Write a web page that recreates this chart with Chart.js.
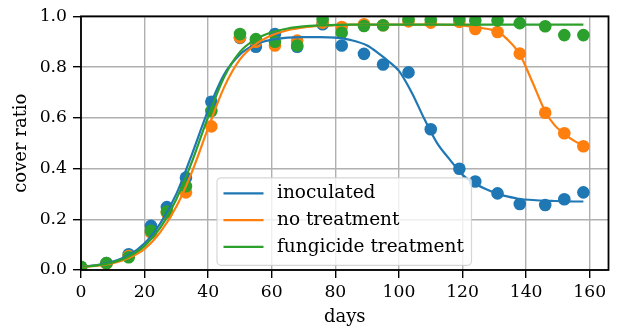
<!DOCTYPE html>
<html lang="en">
<head>
<meta charset="UTF-8">
<title>cover ratio</title>
<script src="https://cdn.jsdelivr.net/npm/chart.js@4.4.0/dist/chart.umd.min.js"></script>
<style>
  html, body { margin: 0; padding: 0; background: #fff; }
  #wrap { width: 622px; height: 333px; }
</style>
</head>
<body>
<div id="wrap"><canvas id="coverChart"></canvas></div>
<script>
const seriesNames = ['inoculated', 'no treatment', 'fungicide treatment'];
const seriesColors = ['#1f77b4', '#ff7f0e', '#2ca02c'];

// sampling days and measured cover ratio
const days = [0, 8, 15, 22, 27, 33, 41, 50, 55, 61, 68, 76, 82, 89, 95, 103, 110, 119, 124, 131, 138, 146, 152, 158];
const inoculated  = [0.01, 0.027, 0.062, 0.174, 0.248, 0.364, 0.663, 0.915, 0.88, 0.93, 0.88, 0.969, 0.885, 0.852, 0.81, 0.779, 0.555, 0.399, 0.349, 0.302, 0.26, 0.256, 0.279, 0.306];
const noTreatment = [0.01, 0.025, 0.055, 0.148, 0.225, 0.306, 0.566, 0.917, 0.90, 0.885, 0.904, 0.975, 0.958, 0.969, 0.965, 0.98, 0.975, 0.978, 0.95, 0.938, 0.853, 0.62, 0.539, 0.488];
const fungicide   = [0.013, 0.027, 0.05, 0.155, 0.23, 0.33, 0.627, 0.93, 0.91, 0.90, 0.885, 0.988, 0.935, 0.962, 0.965, 0.988, 0.986, 0.99, 0.984, 0.984, 0.973, 0.961, 0.926, 0.926];

// fitted curves
const fitDays = [0, 5, 10, 15, 20, 25, 30, 35, 40, 45, 50, 55, 60, 65, 70, 75, 80, 85, 90, 94, 97, 100, 104, 108, 112, 116, 120, 124, 128, 131, 134, 138, 142, 146, 149, 152, 155, 158];
const fitInoculated  = [0.012, 0.019, 0.033, 0.058, 0.105, 0.185, 0.30, 0.46, 0.63, 0.77, 0.85, 0.89, 0.908, 0.916, 0.918, 0.918, 0.916, 0.906, 0.885, 0.85, 0.82, 0.785, 0.70, 0.595, 0.50, 0.435, 0.375, 0.34, 0.315, 0.30, 0.29, 0.28, 0.276, 0.273, 0.272, 0.271, 0.27, 0.27];
const fitNoTreatment = [0.012, 0.017, 0.027, 0.047, 0.083, 0.15, 0.25, 0.39, 0.56, 0.72, 0.83, 0.89, 0.925, 0.945, 0.956, 0.962, 0.965, 0.967, 0.967, 0.967, 0.967, 0.967, 0.967, 0.967, 0.967, 0.966, 0.964, 0.957, 0.95, 0.94, 0.91, 0.85, 0.74, 0.625, 0.57, 0.537, 0.51, 0.49];
const fitFungicide   = [0.012, 0.018, 0.03, 0.053, 0.095, 0.168, 0.28, 0.43, 0.605, 0.76, 0.86, 0.91, 0.937, 0.952, 0.96, 0.964, 0.966, 0.967, 0.967, 0.967, 0.967, 0.967, 0.967, 0.967, 0.967, 0.967, 0.967, 0.967, 0.967, 0.967, 0.967, 0.967, 0.967, 0.967, 0.967, 0.967, 0.967, 0.967];

const xTicks = [0, 20, 40, 60, 80, 100, 120, 140, 160];
const yTicks = [0, 0.2, 0.4, 0.6, 0.8, 1.0];

const measured = [inoculated, noTreatment, fungicide];
const fitted = [fitInoculated, fitNoTreatment, fitFungicide];

const FONT = 'DejaVu Serif';
const toXY = (xs, ys) => xs.map((x, i) => ({ x: x, y: ys[i] }));

const datasets = [];
// fit lines sit above the scatter points
fitted.forEach((ys, i) => {
  datasets.push({
    type: 'line',
    label: seriesNames[i],
    data: toXY(fitDays, ys),
    borderColor: seriesColors[i],
    borderWidth: 2.2,
    pointRadius: 0,
    cubicInterpolationMode: 'monotone',
    fill: false,
    clip: 0,
    order: 2 - i
  });
});
measured.forEach((ys, i) => {
  datasets.push({
    type: 'scatter',
    label: seriesNames[i] + ' data',
    data: toXY(days, ys),
    backgroundColor: seriesColors[i],
    borderWidth: 0,
    pointRadius: 6.3,
    pointHoverRadius: 6.3,
    clip: 0,
    order: 5 - i
  });
});

// axes frame and the legend box inside the plot
const frameAndLegend = {
  id: 'frameAndLegend',
  afterDatasetsDraw(chart) {
    const { ctx, chartArea: a } = chart;
    ctx.save();
    ctx.strokeStyle = '#000';
    ctx.lineWidth = 1.8;
    ctx.strokeRect(a.left, a.top, a.right - a.left, a.bottom - a.top);

    const bx = a.left + 136, by = a.top + 161.5, bw = 254.5, bh = 87.5, r = 4;
    ctx.beginPath();
    ctx.moveTo(bx + r, by);
    ctx.arcTo(bx + bw, by, bx + bw, by + bh, r);
    ctx.arcTo(bx + bw, by + bh, bx, by + bh, r);
    ctx.arcTo(bx, by + bh, bx, by, r);
    ctx.arcTo(bx, by, bx + bw, by, r);
    ctx.closePath();
    ctx.fillStyle = 'rgba(255,255,255,0.8)';
    ctx.fill();
    ctx.strokeStyle = 'rgba(204,204,204,0.8)';
    ctx.lineWidth = 1.2;
    ctx.stroke();

    ctx.font = '18.5px "' + FONT + '"';
    ctx.textBaseline = 'middle';
    ctx.textAlign = 'left';
    seriesNames.forEach((name, i) => {
      const y = by + 15.5 + i * 26.8;
      ctx.strokeStyle = seriesColors[i];
      ctx.lineWidth = 2.2;
      ctx.beginPath();
      ctx.moveTo(bx + 6.5, y);
      ctx.lineTo(bx + 46.5, y);
      ctx.stroke();
      ctx.fillStyle = '#000';
      ctx.fillText(name, bx + 60, y);
    });
    ctx.restore();
  }
};

new Chart('coverChart', {
  data: { datasets: datasets },
  options: {
    responsive: true,
    maintainAspectRatio: false,
    animation: false,
    events: [],
    layout: { padding: { left: 0, top: 12, right: 13.5, bottom: 0 } },
    plugins: { legend: { display: false }, tooltip: { enabled: false } },
    scales: {
      x: {
        type: 'linear',
        min: 0,
        max: 165.9,
        afterBuildTicks: (axis) => { axis.ticks = xTicks.map(v => ({ value: v })); },
        afterFit: (axis) => { axis.height = 63; },
        grid: { color: '#b0b0b0', lineWidth: 1.4, tickColor: '#000', tickLength: 8, tickWidth: 1.4 },
        border: { display: false },
        ticks: { color: '#000', padding: 4, maxRotation: 0, font: { family: FONT, size: 17.2 } },
        title: { display: true, text: 'days', color: '#000', padding: { top: 0, bottom: 5 }, font: { family: FONT, size: 18 } }
      },
      y: {
        type: 'linear',
        min: 0,
        max: 1,
        afterBuildTicks: (axis) => { axis.ticks = yTicks.map(v => ({ value: v })); },
        afterFit: (axis) => { axis.width = 81; },
        grid: { color: '#b0b0b0', lineWidth: 1.4, tickColor: '#000', tickLength: 8, tickWidth: 1.4 },
        border: { display: false },
        ticks: { color: '#000', padding: 6, callback: (v) => v.toFixed(1), font: { family: FONT, size: 17.2 } },
        title: { display: true, text: 'cover ratio', color: '#000', padding: { top: 11, bottom: 0 }, font: { family: FONT, size: 18 } }
      }
    }
  },
  plugins: [frameAndLegend]
});
</script>
</body>
</html>
